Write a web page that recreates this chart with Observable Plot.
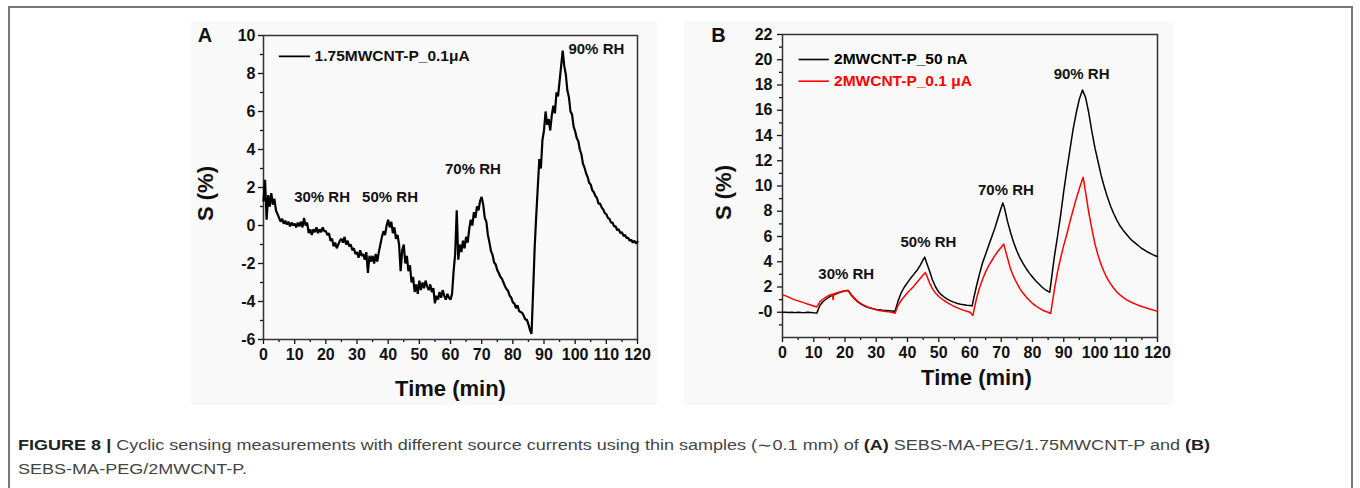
<!DOCTYPE html>
<html><head><meta charset="utf-8">
<script src="https://cdn.jsdelivr.net/npm/d3@7"></script>
<script src="https://cdn.jsdelivr.net/npm/@observablehq/plot@0.6"></script>
<style>
body{margin:0;background:#fff;width:1360px;height:488px;position:relative;overflow:hidden;font-family:"Liberation Sans",Arial,sans-serif}
#outer{position:absolute;left:8px;top:6px;width:1345px;height:540px;border:2px solid #777;box-sizing:border-box}
.panel{position:absolute;top:21px;height:384px;background:#f9f9f9}
#pa{left:191px;width:466px}
#pb{left:684px;width:489px}
#cap{position:absolute;left:18px;top:434px;font-size:14px;line-height:23.6px;color:#444;white-space:nowrap;transform-origin:0 0}
#cap b{color:#222}
</style></head><body>
<div id="outer"></div>
<div class="panel" id="pa"></div>
<div class="panel" id="pb"></div>
<div id="cap"><div id="l1"><b>FIGURE 8 |</b> Cyclic sensing measurements with different source currents using thin samples (∼0.1 mm) of <b>(A)</b> SEBS-MA-PEG/1.75MWCNT-P and <b>(B)</b></div><div>SEBS-MA-PEG/2MWCNT-P.</div></div>
<script>
// ---------- data ----------
// Panel A: S (%) sampled every 0.5 min from 0 to 120 min
const sA = [
 1.3, 2.4, 0.3, 1.6, 1.0, 1.7, 1.1, 1.4, 0.8, 0.6,
 0.4, 0.2, 0.35, 0.1, 0.25, 0.05, 0.2, -0.05, 0.15, 0.0,
 0.1, -0.1, 0.15, -0.05, 0.2, -0.1, 0.4, 0.0, 0.15, -0.4,
 -0.2, -0.5, -0.2, -0.35, -0.1, -0.4, -0.2, -0.35, -0.1, -0.3,
 -0.3, -0.5, -0.4, -0.8, -0.7, -1.1, -0.9, -1.2, -1.0, -0.8,
 -0.7, -0.9, -0.6, -1.0, -0.8, -1.1, -1.0, -1.3, -1.2, -1.5,
 -1.4, -1.7, -1.3, -1.6, -1.5, -1.8, -1.4, -2.5, -1.6, -1.9,
 -1.6, -2.0, -1.5, -1.9, -1.4, -1.0, -0.6, -0.3, -0.5, 0.0,
 0.3, -0.1, 0.2, -0.4, -0.1, -0.7, -0.5, -1.0, -2.4, -1.3,
 -1.0, -2.0, -1.6, -2.4, -2.1, -3.0, -2.7, -3.5, -3.1, -3.6,
 -2.9, -3.4, -3.0, -3.3, -2.9, -3.2, -3.4, -3.1, -3.5, -3.3,
 -4.1, -3.7, -3.9, -3.5, -3.8, -3.4, -3.7, -3.9, -3.6, -3.8,
 -3.9, -3.6, -2.4, -1.5, 0.8, -1.8, -1.0, -1.4, -0.8, -1.2,
 -0.6, -0.9, -0.2, 0.3, 0.0, 0.7, 0.4, 1.0, 0.8, 1.3,
 1.5, 1.1, 0.4, 0.2, -0.5, -0.9, -1.35, -1.55, -1.95, -2.05,
 -2.35, -2.5, -2.7, -2.8, -3.0, -3.2, -3.35, -3.45, -3.7, -3.8,
 -4.05, -4.1, -4.35, -4.2, -4.5, -4.55, -4.6, -4.75, -4.95, -4.95,
 -5.2, -5.5, -5.7, -3.5, -1.2, 0.5, 2.0, 3.5, 3.0, 4.5,
 5.0, 6.0, 5.3, 5.6, 5.0, 5.8, 6.3, 5.9, 7.0, 6.8,
 7.6, 8.4, 9.2, 8.4, 7.95, 7.1, 6.75, 6.0, 5.85, 5.2,
 4.95, 4.6, 4.45, 4.0, 3.75, 3.25, 3.05, 2.75, 2.55, 2.25,
 2.15, 1.85, 1.75, 1.55, 1.45, 1.15, 1.15, 0.95, 0.85, 0.65,
 0.6, 0.4, 0.35, 0.15, 0.15, -0.05, -0.05, -0.25, -0.2, -0.4,
 -0.35, -0.55, -0.5, -0.65, -0.65, -0.8, -0.75, -0.9, -0.8, -0.95,
 -0.85
];
const stepA = 0.5;

// Panel B: 2MWCNT-P_50 nA (black)
const tB50 = [0,1,2,3,4,5,6,7,8,9,10,11,12,13,14,15,16,17,18,19,20,21,22,23,24,25,26,27,28,29,30,31,32,33,34,35,36,37,38,39,40,41,42,43,44,45,45.5,46,47,48,49,50,51,52,53,54,55,56,57,58,59,60,60.7,61,62,63,64,65,66,67,68,69,70,70.5,71,72,73,74,75,76,77,78,79,80,81,82,83,84,85,85.5,86,87,88,89,90,91,92,93,94,95,96,97,98,99,100,101,102,103,104,105,106,107,108,109,110,111,112,113,114,115,116,117,118,119,120];
const sB50 = [0.0,0.0,-0.02,0.0,-0.03,0.0,-0.02,-0.03,0.0,-0.02,-0.04,-0.05,0.55,0.85,1.05,1.22,1.35,1.45,1.55,1.62,1.7,1.72,1.35,1.08,0.85,0.67,0.53,0.42,0.34,0.27,0.22,0.19,0.16,0.14,0.12,0.1,0.08,0.9,1.55,2.0,2.35,2.7,3.0,3.3,3.7,4.15,4.37,4.0,3.3,2.55,2.0,1.6,1.35,1.15,1.0,0.88,0.78,0.7,0.64,0.6,0.56,0.53,0.5,0.9,2.0,3.0,3.9,4.6,5.3,6.0,6.7,7.5,8.3,8.65,8.3,7.2,6.3,5.5,4.85,4.3,3.85,3.45,3.1,2.8,2.5,2.25,2.0,1.8,1.65,1.58,2.5,4.4,6.0,7.7,9.6,11.3,12.9,14.5,15.8,16.9,17.6,17.0,15.8,14.3,13.0,11.9,10.8,9.9,9.1,8.4,7.8,7.3,6.85,6.5,6.2,5.9,5.65,5.45,5.25,5.05,4.9,4.75,4.62,4.5,4.42];

// Panel B: 2MWCNT-P_0.1 µA (red)
const tB01 = [0,1,2,3,4,5,6,7,8,9,10,11,12,13,14,15,16,16.2,16.4,17,18,19,20,21,22,23,24,25,26,27,28,29,30,31,32,33,34,35,36,37,38,39,40,41,42,43,44,45,45.7,46,47,48,49,50,51,52,53,54,55,56,57,58,59,60,60.9,62,63,64,65,66,67,68,69,70,70.8,72,73,74,75,76,77,78,79,80,81,82,83,84,85,85.8,87,88,89,90,91,92,93,94,95,96.2,97,98,99,100,101,102,103,104,105,106,107,108,109,110,111,112,113,114,115,116,117,118,119,120];
const sB01 = [1.4,1.3,1.2,1.08,0.98,0.9,0.82,0.74,0.66,0.58,0.5,0.42,0.85,1.05,1.22,1.35,1.42,1.0,1.45,1.5,1.58,1.65,1.7,1.72,1.4,1.12,0.88,0.7,0.56,0.44,0.35,0.27,0.2,0.14,0.1,0.06,0.03,0.0,-0.08,0.55,0.95,1.25,1.55,1.8,2.05,2.35,2.65,2.95,3.15,3.0,2.35,1.85,1.5,1.25,1.05,0.88,0.72,0.58,0.45,0.35,0.25,0.15,0.08,0.0,-0.26,1.0,1.9,2.6,3.2,3.7,4.1,4.5,4.85,5.15,5.4,4.3,3.4,2.8,2.3,1.85,1.5,1.2,0.95,0.7,0.5,0.35,0.2,0.08,0.0,-0.1,1.8,3.2,4.3,5.3,6.2,7.2,8.1,9.0,9.8,10.7,9.5,7.9,6.6,5.4,4.5,3.75,3.15,2.65,2.25,1.9,1.6,1.38,1.18,1.0,0.87,0.75,0.64,0.54,0.45,0.37,0.3,0.22,0.15,0.08];

const xMajor = [0,10,20,30,40,50,60,70,80,90,100,110,120];
const xMinor = [5,15,25,35,45,55,65,75,85,95,105,115];
const yMajorA = [-6,-4,-2,0,2,4,6,8,10];
const yMinorA = [-5,-3,-1,1,3,5,7,9];
const yMajorB = [0,2,4,6,8,10,12,14,16,18,20,22];
const yMinorB = [-1,1,3,5,7,9,11,13,15,17,19,21];
const rhLabels = ["30% RH","50% RH","70% RH","90% RH"];
const legendA = ["1.75MWCNT-P_0.1μA"];
const legendB = ["2MWCNT-P_50 nA","2MWCNT-P_0.1 μA"];
const colorsB = ["#000000","#ff0000"];

// ---------- charts ----------
const FONT = "Liberation Sans, Arial, Helvetica, sans-serif";
const rowsA = sA.map((s,i)=>({t:i*stepA, s}));
const rowsB50 = tB50.map((t,i)=>({t, s:sB50[i]}));
const rowsB01 = tB01.map((t,i)=>({t, s:sB01[i]}));

function axes(yMajor, yMinor, yFmt, yPad){
  return [
    Plot.axisX({ticks:xMajor, tickSize:5, tickPadding:4, fontSize:16, fontWeight:"bold", color:"#111", strokeWidth:1.3, label:null, tickFormat:d=>String(d)}),
    Plot.axisX({ticks:xMinor, tickSize:3, color:"#111", strokeWidth:1.3, label:null, tickFormat:()=>""}),
    Plot.axisY({ticks:yMajor, tickSize:5, tickPadding:yPad, fontSize:16, fontWeight:"bold", color:"#111", strokeWidth:1.3, label:null, tickFormat:yFmt}),
    Plot.axisY({ticks:yMinor, tickSize:3, color:"#111", strokeWidth:1.3, label:null, tickFormat:()=>""}),
    Plot.frame({stroke:"#333", strokeWidth:1.5})
  ];
}

const chartA = Plot.plot({
  width:466, height:384,
  marginLeft:72, marginRight:20, marginTop:14, marginBottom:66,
  x:{domain:[0,120]}, y:{domain:[-6,10]},
  style:{background:"transparent", fontFamily:FONT, overflow:"visible"},
  marks:[
    ...axes(yMajorA, yMinorA, d=>String(d), 3),
    Plot.line(rowsA, {x:"t", y:"s", stroke:"#000", strokeWidth:2.2, strokeLinejoin:"miter"}),
    Plot.ruleY([legendA[0]], {y:8.9, x1:5.1, x2:15.1, stroke:"#000", strokeWidth:1.8}),
    Plot.text(legendA, {x:16.4, y:8.9, text:d=>d, textAnchor:"start", fontSize:15.5, fontWeight:"bold", fill:"#111"}),
    Plot.text(rhLabels, {x:[18.8,40.6,67.2,106.8], y:[1.49,1.49,2.96,9.26], text:d=>d, fontSize:15, fontWeight:"bold", fill:"#111"}),
    Plot.text(["Time (min)"], {frameAnchor:"bottom", text:d=>d, lineAnchor:"middle", dy:49, fontSize:22, fontWeight:"bold", fill:"#111"}),
    Plot.text(["S (%)"], {frameAnchor:"left", text:d=>d, rotate:-90, lineAnchor:"middle", textAnchor:"middle", dx:-58, dy:6, fontSize:22, fontWeight:"bold", fill:"#111"}),
    Plot.text(["A"], {frameAnchor:"top-left", text:d=>d, textAnchor:"middle", lineAnchor:"middle", dx:-58.5, dy:0, fontSize:20, fontWeight:"bold", fill:"#111"})
  ]
});
chartA.style.position="absolute"; chartA.style.left="191px"; chartA.style.top="21px";
document.body.appendChild(chartA);

const chartB = Plot.plot({
  width:489, height:384,
  marginLeft:98, marginRight:16, marginTop:13, marginBottom:68,
  x:{domain:[0,120]}, y:{domain:[-2,22]},
  style:{background:"transparent", fontFamily:FONT, overflow:"visible"},
  marks:[
    ...axes(yMajorB, yMinorB, d=>d===0?"-0":String(d), 5),
    Plot.line(rowsB50, {x:"t", y:"s", stroke:colorsB[0], strokeWidth:1.5}),
    Plot.line(rowsB01, {x:"t", y:"s", stroke:colorsB[1], strokeWidth:1.5}),
    Plot.ruleY(legendB, {y:[20.02,18.3], x1:5.3, x2:15.0, stroke:colorsB, strokeWidth:1.6}),
    Plot.text(legendB, {x:16.5, y:[20.02,18.3], text:d=>d, textAnchor:"start", fontSize:15.5, fontWeight:"bold", fill:colorsB}),
    Plot.text(rhLabels, {x:[20.4,46.7,71.5,95.7], y:[2.98,5.58,9.68,18.84], text:d=>d, fontSize:15, fontWeight:"bold", fill:"#111"}),
    Plot.text(["Time (min)"], {frameAnchor:"bottom", text:d=>d, lineAnchor:"middle", dx:6.5, dy:40, fontSize:22, fontWeight:"bold", fill:"#111"}),
    Plot.text(["S (%)"], {frameAnchor:"left", text:d=>d, rotate:-90, lineAnchor:"middle", textAnchor:"middle", dx:-59, dy:6.5, fontSize:22, fontWeight:"bold", fill:"#111"}),
    Plot.text(["B"], {frameAnchor:"top-left", text:d=>d, textAnchor:"middle", lineAnchor:"middle", dx:-64, dy:1, fontSize:20, fontWeight:"bold", fill:"#111"})
  ]
});
chartB.style.position="absolute"; chartB.style.left="684px"; chartB.style.top="21px";
document.body.appendChild(chartB);

// caption: condensed to the reference width
const cap = document.getElementById("cap");
const w1 = document.getElementById("l1").getBoundingClientRect().width;
cap.style.transform = `scaleX(${1192 / w1})`;
</script>
</body></html>
